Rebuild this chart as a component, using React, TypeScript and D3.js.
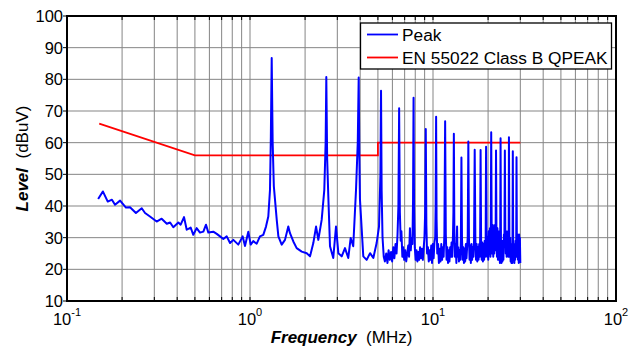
import React from "react";
import * as d3 from "d3";

// Measured peak-detector trace: [frequency (MHz), level (dBuV)]
const peakTrace: [number, number][] = [
  [0.148, 42.2], [0.157, 44.6], [0.167, 41.4], [0.176, 42.0], [0.183, 40.4], [0.195, 41.7],
  [0.210, 39.5], [0.221, 39.6], [0.238, 37.8], [0.256, 39.3], [0.267, 37.8], [0.284, 36.7],
  [0.309, 35.1], [0.329, 36.0], [0.351, 34.4], [0.366, 34.8], [0.381, 33.3], [0.406, 34.8],
  [0.418, 34.1], [0.436, 36.5], [0.451, 32.5], [0.474, 33.2], [0.490, 30.9], [0.511, 33.0],
  [0.533, 31.6], [0.556, 31.9], [0.575, 34.1], [0.592, 31.6], [0.630, 31.9], [0.658, 31.2],
  [0.686, 30.4], [0.715, 29.6], [0.746, 30.4], [0.778, 28.3], [0.811, 29.3], [0.863, 27.8],
  [0.912, 30.4], [0.939, 27.4], [0.979, 31.9], [1.009, 27.8], [1.042, 28.9], [1.088, 28.1],
  [1.134, 30.4], [1.182, 30.9], [1.223, 33.5], [1.259, 36.7], [1.286, 45.1], [1.300, 62],
  [1.314, 86.7], [1.330, 60], [1.350, 46.2], [1.400, 35.6], [1.429, 30.4], [1.490, 27.8],
  [1.553, 29.3], [1.619, 33.5], [1.654, 31.4], [1.725, 28.8], [1.799, 26.7], [1.917, 25.6],
  [2.042, 25.1], [2.128, 24.1], [2.218, 28.3], [2.296, 33.5], [2.362, 29.3], [2.464, 35.6],
  [2.547, 45.1], [2.590, 60], [2.612, 80.7], [2.640, 55], [2.679, 43.0], [2.736, 27.3],
  [2.851, 23.6], [2.951, 33.5], [3.040, 25.1], [3.170, 24.1], [3.304, 26.7], [3.444, 23.6],
  [3.550, 29.9], [3.666, 27.3], [3.796, 45.1], [3.880, 60], [3.926, 80.6], [3.960, 55],
  [3.990, 42.0], [4.160, 24.1], [4.340, 23.0], [4.530, 25.1], [4.720, 23.6], [4.920, 28.3],
  [5.07, 33.5], [5.16, 50], [5.20, 76.4], [5.24, 45], [5.30, 30], [5.38, 24], [5.46, 22.5],
  [5.55, 25], [5.64, 22], [5.72, 26], [5.81, 23], [5.90, 25.5], [5.98, 22.5], [6.07, 27],
  [6.15, 23.5], [6.24, 28], [6.32, 25], [6.40, 31], [6.47, 40], [6.53, 70.9], [6.59, 38],
  [6.66, 29], [6.72, 32], [6.80, 24], [6.88, 27], [6.96, 23], [7.05, 26], [7.14, 22.5],
  [7.23, 25], [7.32, 27.5], [7.40, 24], [7.48, 33], [7.56, 26], [7.64, 30], [7.72, 28],
  [7.78, 42], [7.83, 74.2], [7.88, 40], [7.95, 27], [8.04, 23], [8.13, 26], [8.22, 22.5],
  [8.31, 25.5], [8.40, 23], [8.50, 27], [8.60, 23.5], [8.70, 26.5], [8.80, 23], [8.90, 27],
  [8.98, 30], [9.06, 38], [9.13, 64.3], [9.20, 34], [9.28, 25], [9.38, 27], [9.48, 22.5],
  [9.58, 26], [9.68, 23], [9.78, 27.5], [9.88, 22], [9.98, 28], [10.08, 23.5], [10.18, 28.5],
  [10.28, 30], [10.34, 40], [10.40, 68.2], [10.46, 36], [10.55, 25], [10.66, 28], [10.77, 22],
  [10.88, 26.5], [10.99, 22.5], [11.10, 28], [11.21, 23], [11.32, 27], [11.43, 24], [11.54, 31],
  [11.65, 66.8], [11.75, 31], [11.86, 23], [11.97, 27], [12.08, 22], [12.19, 26], [12.30, 22.5],
  [12.41, 27], [12.52, 24], [12.63, 28.5], [12.74, 24], [12.86, 31], [12.93, 38], [13.00, 62.8],
  [13.08, 33], [13.18, 24], [13.30, 28], [13.42, 22], [13.54, 33.5], [13.62, 24], [13.74, 27],
  [13.86, 22.5], [13.98, 26], [14.10, 23], [14.20, 29], [14.30, 55.3], [14.40, 30], [14.52, 23],
  [14.64, 27], [14.76, 22], [14.88, 26.5], [15.00, 22.5], [15.12, 28], [15.24, 23.5], [15.36, 27],
  [15.48, 30], [15.60, 60.4], [15.72, 30], [15.84, 23], [15.97, 27.5], [16.10, 22], [16.23, 28],
  [16.36, 23], [16.50, 27], [16.63, 24], [16.76, 29], [16.90, 57.8], [17.04, 30], [17.18, 23],
  [17.32, 28], [17.46, 22.5], [17.60, 27], [17.74, 23], [17.88, 28], [18.02, 24], [18.10, 30],
  [18.20, 57.7], [18.32, 29], [18.46, 23], [18.60, 28.5], [18.74, 22.5], [18.88, 28], [19.02, 23],
  [19.16, 29], [19.30, 24], [19.40, 30], [19.50, 58.7], [19.62, 31], [19.76, 24], [19.90, 30],
  [20.04, 23], [20.18, 32], [20.32, 25], [20.46, 33], [20.60, 24], [20.70, 35], [20.80, 63.3],
  [20.92, 33], [21.06, 25], [21.20, 34], [21.34, 24], [21.48, 33], [21.62, 25], [21.76, 34],
  [21.90, 26], [22.00, 33], [22.10, 57.5], [22.22, 32], [22.36, 24], [22.50, 33], [22.64, 23],
  [22.78, 32], [22.92, 23], [23.06, 30], [23.20, 22], [23.30, 31], [23.40, 61.4], [23.52, 28],
  [23.66, 22], [23.80, 27], [23.95, 22.5], [24.10, 29], [24.25, 23], [24.40, 31], [24.55, 28],
  [24.70, 57.5], [24.84, 32], [24.98, 25], [25.12, 32], [25.26, 24], [25.40, 31.5], [25.54, 25],
  [25.68, 32], [25.82, 24], [25.92, 31], [26.00, 61.7], [26.14, 30], [26.28, 24], [26.42, 30],
  [26.56, 22.5], [26.70, 28], [26.84, 22], [26.98, 27], [27.12, 22], [27.20, 29], [27.30, 57.3],
  [27.42, 29], [27.56, 23], [27.70, 28], [27.84, 22], [27.98, 28], [28.12, 23], [28.26, 29],
  [28.40, 24], [28.50, 30], [28.60, 55.4], [28.72, 30], [28.86, 24], [29.00, 31], [29.14, 23],
  [29.28, 30], [29.42, 22], [29.56, 31], [29.70, 23], [29.84, 30], [30.00, 22],
];

// EN 55022 Class B quasi-peak limit: [frequency (MHz), level (dBuV)]
const limitLine: [number, number][] = [
  [0.15, 66], [0.5, 56], [5, 56], [5, 60], [30, 60],
];

const yTicks = [10, 20, 30, 40, 50, 60, 70, 80, 90, 100];
const xDecades = [0.1, 1, 10, 100];
const xDecadeExponents = ["-1", "0", "1", "2"];
const gridFreqs = [
  0.2, 0.3, 0.4, 0.5, 0.6, 0.7, 0.8, 0.9, 1, 2, 3, 4, 5, 6, 7, 8, 9, 10,
  20, 30, 40, 50, 60, 70, 80, 90,
];
const legendLabels = ["Peak", "EN 55022 Class B QPEAK"];
const seriesColors = ["#0000ff", "#ff0000"];

const W = 638;
const H = 349;
const L = 67, R = 616, T = 16, B = 301;
const FONT = "Arial, 'Liberation Sans', Helvetica, sans-serif";

export default function App() {
  const x = d3.scaleLog().domain([0.1, 100]).range([L, R]);
  const y = d3.scaleLinear().domain([10, 100]).range([B, T]);
  const line = d3
    .line<[number, number]>()
    .x((d) => x(d[0]))
    .y((d) => y(d[1]));

  return (
    <svg
      width={W}
      height={H}
      style={{ position: "absolute", left: 0, top: 0, background: "#fff" }}
      fontFamily={FONT}
    >
      <rect x={0} y={0} width={W} height={H} fill="#fff" />
      {/* grid */}
      {gridFreqs.map((f) => (
        <line key={"gx" + f} x1={x(f)} x2={x(f)} y1={T} y2={B} stroke="#858585" strokeWidth={1} />
      ))}
      {yTicks.slice(1, -1).map((v) => (
        <line key={"gy" + v} x1={L} x2={R} y1={y(v)} y2={y(v)} stroke="#858585" strokeWidth={1} />
      ))}
      {/* x ticks inward, bottom & top */}
      {gridFreqs.map((f) => (
        <g key={"tx" + f}>
          <line x1={x(f)} x2={x(f)} y1={B} y2={B - 4} stroke="#000" strokeWidth={1} />
          <line x1={x(f)} x2={x(f)} y1={T} y2={T + 4} stroke="#000" strokeWidth={1} />
        </g>
      ))}
      {/* y ticks */}
      {yTicks.map((v) => (
        <line key={"ty" + v} x1={L - 4} x2={L} y1={y(v)} y2={y(v)} stroke="#000" strokeWidth={1} />
      ))}
      {/* data */}
      <path d={line(limitLine) || ""} fill="none" stroke={seriesColors[1]} strokeWidth={1.8} />
      <path d={line(peakTrace) || ""} fill="none" stroke={seriesColors[0]} strokeWidth={2} strokeLinejoin="round" />
      {/* axes box */}
      <rect x={L} y={T} width={R - L} height={B - T} fill="none" stroke="#000" strokeWidth={2} />
      {/* y tick labels */}
      {yTicks.map((v) => (
        <text key={"yl" + v} x={L - 4} y={y(v)} dy="0.36em" textAnchor="end" fontSize={16.5} fill="#000">
          {v}
        </text>
      ))}
      {/* x tick labels */}
      {xDecades.map((f, i) => (
        <text key={"xl" + f} x={x(f)} y={325} textAnchor="middle" fontSize={16.5} fill="#000">
          10
          <tspan dy={-9} fontSize={11}>
            {xDecadeExponents[i]}
          </tspan>
        </text>
      ))}
      {/* axis titles */}
      <text x={(L + R) / 2} y={343} textAnchor="middle" fontSize={17} fill="#000">
        <tspan fontWeight="bold" fontStyle="italic">Frequency</tspan>
        <tspan>{"\u00a0\u00a0(MHz)"}</tspan>
      </text>
      <text
        transform={`translate(28, ${(T + B) / 2}) rotate(-90)`}
        textAnchor="middle"
        fontSize={17}
        fill="#000"
      >
        <tspan fontWeight="bold" fontStyle="italic">Level</tspan>
        <tspan>{"\u00a0\u00a0(dBuV)"}</tspan>
      </text>
      {/* legend */}
      <g>
        <rect x={360.5} y={23} width={251} height={46} fill="#fff" stroke="#000" strokeWidth={1.3} />
        {legendLabels.map((lab, i) => (
          <g key={lab}>
            <line
              x1={367}
              x2={398}
              y1={34.5 + i * 23}
              y2={34.5 + i * 23}
              stroke={seriesColors[i]}
              strokeWidth={1.8}
            />
            <text x={402} y={40.5 + i * 23} fontSize={17.3} fill="#000">
              {lab}
            </text>
          </g>
        ))}
      </g>
    </svg>
  );
}
